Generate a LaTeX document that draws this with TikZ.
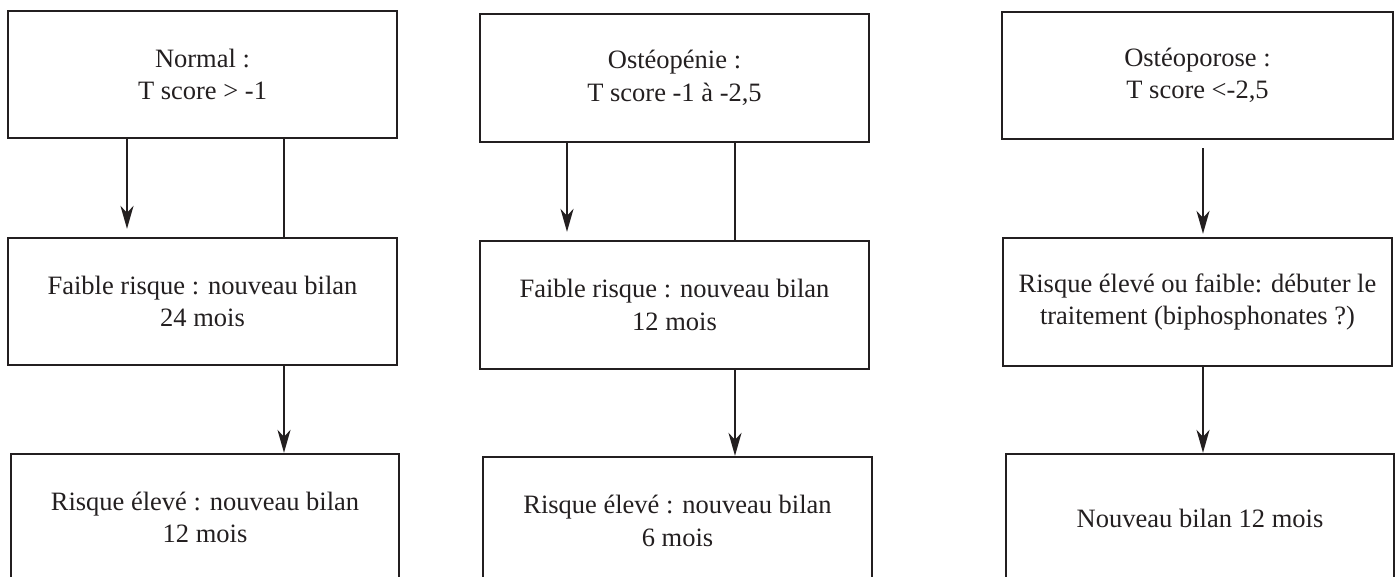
\documentclass[tikz,border=0pt]{standalone}
\usepackage{fontspec}
\setmainfont{Liberation Serif}
\usetikzlibrary{arrows.meta}
\definecolor{ink}{RGB}{35,31,32}
\tikzset{
  box/.style={draw=ink, line width=2.3pt, rectangle, inner sep=0pt, align=center,
    text=ink, font=\fontsize{26.5}{32.5}\selectfont},
  conn/.style={draw=ink, line width=2.3pt},
  arr/.style={conn, -{Stealth[length=23pt,width=13pt,inset=7pt]}}
}
\begin{document}
\begin{tikzpicture}[x=1pt,y=-1pt]
\useasboundingbox (0,0) rectangle (1398,577);
\clip (0,0) rectangle (1398,577);
% column 1
\node[box, minimum width=389pt, minimum height=127pt] (t1) at (202.5,74.5) {Normal :\\T score > -1};
\node[box, minimum width=389pt, minimum height=127pt] (m1) at (202.5,301.5) {Faible risque : nouveau bilan\\24 mois};
\node[box, minimum width=388pt, minimum height=127pt] (b1) at (205,517.5) {Risque élevé : nouveau bilan\\12 mois};
% column 2
\node[box, minimum width=389pt, minimum height=128pt] (t2) at (674.5,78) {Ostéopénie :\\T score -1 à -2,5};
\node[box, minimum width=389pt, minimum height=128pt] (m2) at (674.5,305) {Faible risque : nouveau bilan\\12 mois};
\node[box, minimum width=389pt, minimum height=128pt] (b2) at (677.5,521) {Risque élevé : nouveau bilan\\6 mois};
% column 3
\node[box, minimum width=391pt, minimum height=127pt] (t3) at (1197.5,75.5) {Ostéoporose :\\T score <-2,5};
\node[box, minimum width=389pt, minimum height=128pt] (m3) at (1197.5,302) {Risque élevé ou faible: débuter le\\traitement (biphosphonates ?)};
\node[box, minimum width=388pt, minimum height=128pt] (b3) at (1200,518) {Nouveau bilan 12 mois};
% x positions of connectors
\coordinate (xa1) at (127,0);
\coordinate (xb1) at (284,0);
\coordinate (xa2) at (567,0);
\coordinate (xb2) at (735,0);
\coordinate (xa3) at (1203,0);
% connectors
\draw[arr, shorten >=8pt] (t1.south -| xa1) -- (m1.north -| xa1);
\draw[conn] (t1.south -| xb1) -- (m1.north -| xb1);
\draw[arr] (m1.south -| xb1) -- (b1.north -| xb1);
\draw[arr, shorten >=8pt] (t2.south -| xa2) -- (m2.north -| xa2);
\draw[conn] (t2.south -| xb2) -- (m2.north -| xb2);
\draw[arr] (m2.south -| xb2) -- (b2.north -| xb2);
\draw[arr, shorten <=8pt, shorten >=3pt] (t3.south -| xa3) -- (m3.north -| xa3);
\draw[arr] (m3.south -| xa3) -- (b3.north -| xa3);
\end{tikzpicture}
\end{document}
